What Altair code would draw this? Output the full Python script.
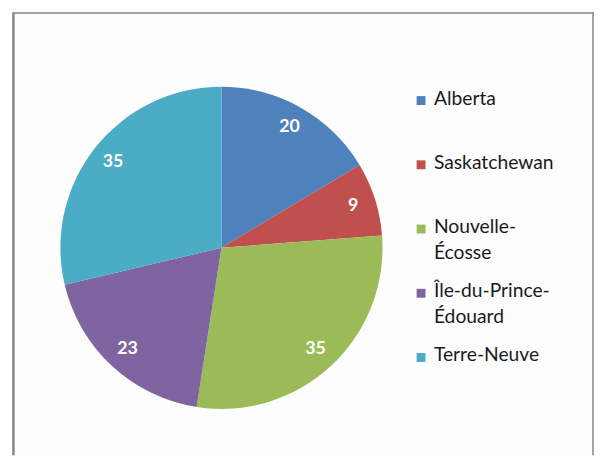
import altair as alt
import pandas as pd

categories = ["Alberta", "Saskatchewan", "Nouvelle-Écosse", "Île-du-Prince-Édouard", "Terre-Neuve"]
values = [20, 9, 35, 23, 35]
legend_labels = ["Alberta", "Saskatchewan", "Nouvelle-\nÉcosse", "Île-du-Prince-\nÉdouard", "Terre-Neuve"]
colors = ["#4F81BD", "#C0504D", "#9BBB59", "#8064A2", "#4BACC6"]

df = pd.DataFrame({
    "cat": categories,
    "value": values,
    "order": list(range(len(categories))),
    "label": legend_labels,
})

W, H = 593, 448
CX, CY = 216, 238
R = 163
FONT = "Lato"

color = alt.Color("cat:N", scale=alt.Scale(domain=categories, range=colors), legend=None)

base = alt.Chart(df)

pie = base.mark_arc(outerRadius=R, stroke=None).encode(
    theta=alt.Theta("value:Q", stack=True),
    order=alt.Order("order:Q"),
    color=color,
    x=alt.value(CX), y=alt.value(CY),
)

labels = base.mark_text(radius=140, font=FONT, fontSize=18, fontWeight="bold",
                        color="white", align="center", baseline="middle").encode(
    theta=alt.Theta("value:Q", stack=True),
    order=alt.Order("order:Q"),
    text=alt.Text("value:Q"),
    x=alt.value(CX), y=alt.value(CY),
)

ly = alt.Y("cat:N", sort=categories, axis=None,
           scale=alt.Scale(type="point", domain=categories, range=[89, 349], padding=0))

leg_sq = base.mark_square(size=81, opacity=1, filled=True).encode(
    x=alt.value(418), y=ly, color=color,
)
leg_txt = base.mark_text(font=FONT, fontSize=19.5, align="left", baseline="top",
                         dy=-11, lineBreak="\n", lineHeight=26, color="#1a1a1a").encode(
    x=alt.value(431), y=ly, text="label:N",
)

border = alt.Chart(pd.DataFrame({"k": [0]}))
left = border.mark_rule(color="#858585", strokeWidth=2.5).encode(
    x=alt.value(5.5), y=alt.value(0), y2=alt.value(H))
top = border.mark_rule(color="#858585", strokeWidth=1.5).encode(
    x=alt.value(5), x2=alt.value(593), y=alt.value(0.5))
right = border.mark_rule(color="#858585", strokeWidth=1.5).encode(
    x=alt.value(592), y=alt.value(0), y2=alt.value(H))

chart = alt.layer(pie, labels, leg_sq, leg_txt, left, top, right).properties(
    width=W, height=H,
    autosize=alt.AutoSizeParams(type="fit", contains="padding"),
    padding=0,
    background="#FDFDFD",
).configure_view(stroke=None)

chart.save("out.html", embed_options={"renderer": "svg", "actions": False})
